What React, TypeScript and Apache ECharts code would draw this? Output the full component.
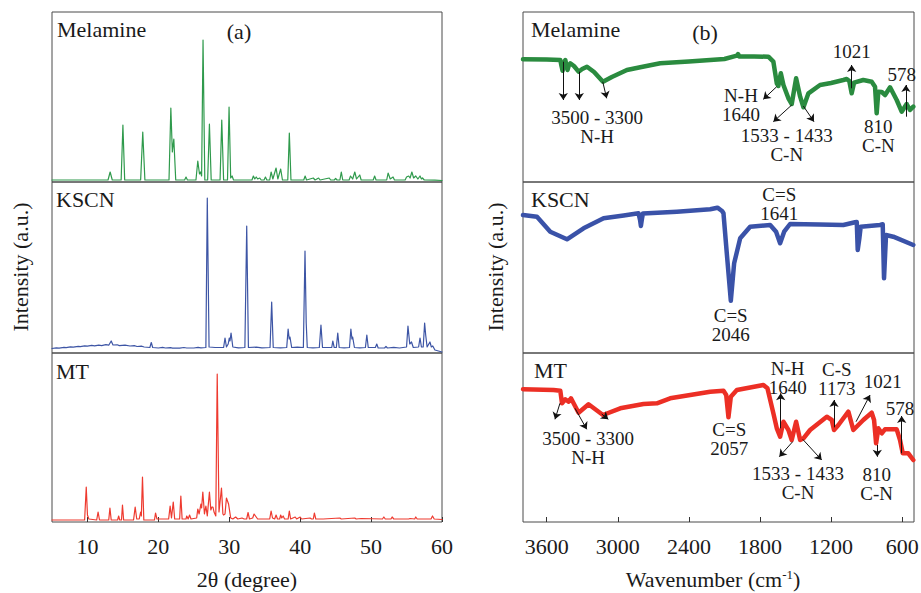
import React, { useEffect, useRef } from "react";
import * as echarts from "echarts";

// ---------- XRD (panel a) : [2theta, intensity a.u.] ----------
const xrdMelamine: [number, number][] = [
  [5, 2], [12.9, 2], [13.2, 10], [13.5, 2], [14.75, 2], [15.0, 57], [15.25, 2], [17.5, 2], [17.8, 50], [18.1, 2],
  [21.5, 2], [21.76, 74], [21.97, 30], [22.18, 43], [22.45, 2], [23.7, 2], [23.9, 5], [24.1, 2], [25.3, 2], [25.56, 21],
  [25.8, 8], [25.95, 10], [26.1, 6], [26.3, 142], [26.55, 2], [26.95, 2], [27.2, 58], [27.45, 2], [28.7, 2], [28.94, 62],
  [29.2, 2], [29.75, 2], [29.97, 75], [30.2, 4], [30.4, 6], [30.6, 2], [33.2, 2], [33.4, 6], [33.6, 3], [33.8, 5],
  [34.0, 3], [34.3, 4], [34.5, 2], [34.9, 2], [35.1, 5], [35.3, 2], [35.7, 2], [35.9, 10], [36.15, 3], [36.6, 14],
  [36.85, 3], [37.25, 13], [37.5, 2], [38.25, 2], [38.47, 49], [38.7, 2], [40.5, 2], [40.7, 6], [40.9, 2], [41.85, 4],
  [42.1, 2], [42.6, 4], [42.8, 2], [44.1, 4], [44.3, 2], [44.8, 2], [45.0, 3.5], [45.2, 2], [45.6, 2], [45.8, 10],
  [46.0, 2], [46.9, 2], [47.1, 6], [47.4, 3], [47.7, 10], [47.95, 3], [48.4, 7], [48.6, 2], [50.3, 2], [50.5, 6],
  [50.7, 2], [52.2, 2], [52.4, 9], [52.7, 3], [53.1, 5], [53.3, 2], [54.8, 2], [55.0, 5], [55.3, 6], [55.5, 4],
  [55.75, 10], [56.0, 4], [56.3, 6], [56.6, 3], [56.9, 6], [57.1, 3], [57.25, 4], [57.5, 2], [59, 1.8], [60, 1.5],
];

const xrdKSCN: [number, number][] = [
  [5, 4.5], [5.6, 5.2], [6, 4.8], [6.7, 5.6], [7, 5.3], [7.6, 6.2], [8, 5.8], [8.7, 6.7], [9, 6.4], [9.6, 7.2],
  [10, 6.8], [10.6, 7.6], [11, 7.2], [11.6, 7.9], [12, 7.4], [12.6, 8.3], [13, 7.8], [13.35, 12], [13.6, 8], [14.2, 8.2],
  [14.5, 7.4], [15.3, 7.8], [16, 7], [16.6, 7.3], [17, 6.5], [17.6, 6.8], [18, 6], [18.8, 5.5], [19.0, 10.5], [19.2, 5.5],
  [20, 5], [20.6, 5.6], [21, 5], [21.7, 5.4], [22, 4.8], [23, 4.8], [23.6, 5.5], [24, 5], [25, 5], [25.6, 5.6],
  [26, 5.2], [26.7, 5.5], [26.9, 155], [27.15, 6], [28, 5.5], [29.2, 5.5], [29.4, 15], [29.6, 6], [29.85, 9], [30.0, 15],
  [30.1, 12], [30.25, 20], [30.5, 6], [31.3, 5.2], [32.2, 5.5], [32.46, 127], [32.7, 5.5], [33.8, 5.8], [34.6, 5.2], [35.75, 5.5],
  [35.98, 51], [36.2, 5.5], [37.2, 5.1], [38.1, 5.5], [38.3, 24], [38.45, 14], [38.56, 16], [38.8, 5.5], [39.6, 5.8], [40.45, 5.5],
  [40.68, 102], [40.85, 30], [41.0, 5.5], [41.8, 5.1], [42.7, 5.5], [42.93, 28], [43.15, 5.5], [44.45, 5.5], [44.6, 12], [44.8, 5.5],
  [45.1, 5.5], [45.3, 20], [45.5, 5.5], [46.2, 5.1], [46.95, 5.5], [47.15, 24], [47.3, 14], [47.4, 16], [47.65, 5.5], [48.4, 5.2],
  [49.2, 5.5], [49.4, 18], [49.6, 5.5], [50.6, 5.5], [50.8, 9], [51.0, 5], [51.9, 5], [52.1, 6.5], [52.3, 5], [53.2, 5.6],
  [54, 5], [55.0, 6], [55.2, 27], [55.45, 9], [55.7, 11], [55.95, 5.5], [56.7, 6], [56.9, 15], [57.1, 6], [57.35, 6],
  [57.55, 30], [57.7, 18], [57.9, 6], [58.3, 11], [58.5, 6], [58.7, 7], [59.0, 3], [59.5, 2], [60, 1],
];

const xrdMT: [number, number][] = [
  [5, 2], [9.6, 2], [9.83, 35], [10.0, 7], [10.2, 3], [11.3, 2], [11.5, 10], [11.7, 2], [13.0, 2], [13.17, 14],
  [13.35, 2], [14.25, 2], [14.4, 6], [14.55, 2], [14.8, 2], [14.94, 17], [15.1, 2], [16.5, 2], [16.73, 15], [16.95, 3],
  [17.3, 3], [17.5, 10], [17.6, 6], [17.76, 45], [17.95, 2], [19.45, 2], [19.6, 9], [19.8, 3], [21.45, 3], [21.66, 16],
  [21.85, 4], [22.1, 20], [22.3, 3], [23.0, 3], [23.17, 26], [23.35, 3], [23.9, 3], [24.0, 6], [24.2, 3], [24.4, 7],
  [24.6, 3], [25.4, 4], [25.56, 13], [25.75, 8], [26.0, 18], [26.1, 14], [26.27, 30], [26.5, 8], [26.7, 16], [26.9, 6],
  [27.2, 30], [27.4, 12], [27.55, 15], [27.7, 15], [27.85, 10], [28.1, 6], [28.3, 148], [28.55, 10], [28.9, 34], [29.1, 8],
  [29.2, 7], [29.4, 8], [29.6, 24], [29.9, 18], [30.2, 4], [30.5, 3], [30.9, 5], [31.2, 3], [31.8, 4], [32.1, 3],
  [32.45, 3], [32.65, 9.5], [32.85, 3], [33.3, 4], [33.5, 8], [33.8, 5], [34.0, 3], [35.7, 3], [35.9, 11], [36.1, 4],
  [36.4, 3], [36.6, 7], [36.8, 3], [37.1, 3], [37.25, 7], [37.4, 4], [37.6, 6], [37.8, 3], [38.3, 3], [38.47, 11],
  [38.65, 3], [39.3, 5], [39.5, 3], [40.0, 5], [40.2, 3], [41.4, 4], [41.6, 3], [41.85, 3], [42.0, 9], [42.2, 3],
  [43.25, 3], [45.6, 4], [45.8, 3], [47.7, 4], [47.9, 3], [48.6, 3.5], [51.6, 3], [51.8, 5], [52.0, 3], [52.8, 3],
  [52.97, 5], [53.2, 3], [55.3, 3], [55.5, 3.5], [56.15, 3], [56.3, 5], [56.5, 3], [58.45, 3], [58.66, 6], [58.9, 3],
  [60, 2.5],
];

// ---------- FTIR (panel b) : [wavenumber cm-1, transmittance a.u.] ----------
const ftirMelamine: [number, number][] = [
  [3800, 122.7], [3600, 122.5], [3485, 122], [3475, 116], [3466, 111.3], [3455, 118], [3443, 122], [3434, 117], [3424, 112], [3412, 117],
  [3401, 118.7], [3370, 116], [3331, 110.3], [3300, 113], [3260, 115.3], [3200, 110], [3125, 100.3], [3050, 105], [2923, 112], [2800, 115],
  [2642, 118.7], [2400, 120.5], [2220, 122], [2100, 123], [1995, 126.3], [1985, 128], [1975, 125.5], [1850, 125.5], [1729, 125.3], [1687, 120.3],
  [1658, 98.7], [1645, 96], [1624, 108.7], [1602, 97], [1560, 83.7], [1532, 78], [1495, 103.7], [1461, 85.3], [1433, 74.7], [1391, 88.7],
  [1293, 97], [1200, 99], [1096, 102], [1068, 103], [1046, 101], [1026, 88.7], [1006, 99.3], [928, 102], [857, 100.3], [829, 95.3],
  [815, 68.7], [801, 90.3], [772, 90], [744, 87], [702, 94.7], [646, 82], [604, 70.3], [562, 78], [534, 72], [506, 75.3],
];

const ftirKSCN: [number, number][] = [
  [3800, 138], [3682, 136.3], [3570, 121.3], [3429, 113.7], [3289, 124.7], [3120, 134.7], [2950, 137.5], [2825, 139.7], [2812, 133], [2805, 127],
  [2795, 135], [2788, 139.5], [2501, 141.3], [2220, 143.7], [2159, 145.3], [2120, 142], [2108, 139.7], [2080, 99.7], [2046, 52.3], [2018, 89.7],
  [1967, 114.7], [1883, 126.3], [1714, 128], [1664, 121.3], [1630, 109.7], [1596, 121.3], [1546, 129], [1300, 128.5], [1096, 128], [998, 130.7],
  [983, 131], [975, 103], [961, 114.7], [950, 126.3], [787, 128], [764, 128.7], [753, 74.7], [736, 118], [675, 116.3], [506, 108],
];

const ftirMT: [number, number][] = [
  [3800, 132.7], [3542, 132], [3485, 131.3], [3471, 118.7], [3443, 122.7], [3415, 120.3], [3395, 123.7], [3331, 109.3], [3247, 117.7], [3125, 107],
  [2979, 113.7], [2783, 118], [2670, 118.7], [2558, 123.7], [2220, 130.3], [2108, 131.3], [2085, 127], [2066, 104.7], [2046, 125.3], [1995, 132],
  [1771, 137], [1737, 133.7], [1687, 108.7], [1658, 93.7], [1630, 85.3], [1602, 100.3], [1560, 92], [1532, 82], [1495, 100.3], [1461, 82],
  [1433, 83.7], [1377, 92], [1236, 105.3], [1194, 102], [1175, 92], [1138, 97], [1054, 110.3], [1012, 92], [928, 102], [857, 109.3],
  [837, 102], [820, 78.7], [801, 93.7], [772, 88.7], [745, 92.7], [646, 92.7], [618, 82], [595, 68.7], [548, 68.7], [506, 62],
];

// ---------- Annotations (data coordinates) ----------
type Note = [number, number, string];
type Arrow = [number, number, number, number];

const notesMelamine: Note[] = [
  [3175, 55.3, "3500 - 3300\nN-H"],
  [1960, 77.3, "N-H\n1640"],
  [1574, 37.5, "1533 - 1433\nC-N"],
  [1026, 130.3, "1021"],
  [801, 46.2, "810\nC-N"],
  [604, 108, "578"],
];
const arrowsMelamine: Arrow[] = [
  [3460, 120.3, 3460, 82],
  [3325, 110.3, 3325, 82],
  [3127, 100.3, 3094, 83.7],
  [1659, 95.3, 1772, 82.7],
  [1532, 77, 1687, 60.3],
  [1434, 76, 1344, 60.3],
  [1026, 93.7, 1026, 117],
  [568, 65.3, 568, 97],
];
const notesKSCN: Note[] = [
  [1637, 149.2, "C=S\n1641"],
  [2047, 27.7, "C=S\n2046"],
];
const notesMT: Note[] = [
  [3251, 73.7, "3500 - 3300\nN-H"],
  [2059, 82.8, "C=S\n2057"],
  [1566, 144, "N-H\n1640"],
  [1152, 142.8, "C-S\n1173"],
  [764, 140.3, "1021"],
  [618, 113.7, "578"],
  [815, 37.8, "810\nC-N"],
  [1479, 39.3, "1533 - 1433\nC-N"],
];
const arrowsMT: Arrow[] = [
  [3488, 118.7, 3530, 102.7],
  [3361, 113.7, 3262, 92.7],
  [3136, 108, 3080, 102.7],
  [1625, 93.7, 1625, 128.7],
  [1175, 94.7, 1175, 122],
  [989, 100.3, 871, 127],
  [604, 68.7, 604, 106],
  [810, 77, 810, 65.3],
  [1524, 80.3, 1637, 65.3],
  [1439, 82.7, 1279, 62],
];

const xrdTicks = [10, 20, 30, 40, 50, 60];
const ftirTicks = [600, 1200, 1800, 2400, 3000, 3600];

const FONT = "Liberation Serif";
const TEXT = "#1a1a1a";

export default function App() {
  const ref = useRef<HTMLDivElement>(null);

  useEffect(() => {
    if (!ref.current) return;
    const chart = echarts.init(ref.current, undefined, { renderer: "svg" });

    const rows = [
      { top: 12, height: 170 },
      { top: 182, height: 171 },
      { top: 353, height: 169 },
    ];
    const cols = [
      { left: 52, width: 390 },
      { left: 523, width: 391 },
    ];

    const grids: any[] = [];
    const xAxes: any[] = [];
    const yAxes: any[] = [];
    cols.forEach((c, ci) => {
      rows.forEach((r, ri) => {
        grids.push({
          left: c.left,
          top: r.top,
          width: c.width,
          height: r.height,
          containLabel: false,
          outerBoundsMode: "none",
          show: true,
          borderColor: "#4a4a4a",
          borderWidth: 1,
          backgroundColor: "transparent",
        });
        const idx = ci * 3 + ri;
        const isBottom = ri === 2;
        const ticks = ci === 0 ? xrdTicks : ftirTicks;
        xAxes.push({
          type: "value",
          gridIndex: idx,
          min: ci === 0 ? 5 : 500,
          max: ci === 0 ? 60 : 3800,
          inverse: ci === 1,
          show: isBottom,
          axisLine: { show: false },
          splitLine: { show: false },
          axisTick: {
            show: true,
            inside: true,
            length: 5,
            customValues: ticks,
            lineStyle: { color: "#333", width: 1 },
          },
          axisLabel: {
            show: true,
            customValues: ticks,
            formatter: (v: number) => String(v),
            fontFamily: FONT,
            fontSize: 22,
            color: TEXT,
            margin: 13,
          },
        });
        yAxes.push({
          type: "value",
          gridIndex: idx,
          min: 0,
          max: r.height,
          show: false,
          splitLine: { show: false },
        });
      });
    });

    const markPointFor = (notes: Note[]) => ({
      symbol: "circle",
      symbolSize: 0,
      silent: true,
      label: {
        show: true,
        position: "inside",
        color: TEXT,
        fontFamily: FONT,
        fontSize: 19,
        lineHeight: 19,
        align: "center",
        verticalAlign: "middle",
      },
      data: notes.map((n) => ({
        coord: [n[0], n[1]],
        value: 0,
        label: { formatter: n[2] },
      })),
    });

    const markLineFor = (arrows: Arrow[]) => ({
      symbol: ["none", "arrow"],
      symbolSize: 7,
      silent: true,
      label: { show: false },
      lineStyle: { color: "#111", width: 1, type: "solid" },
      emphasis: { disabled: true },
      data: arrows.map((a) => [{ coord: [a[0], a[1]] }, { coord: [a[2], a[3]] }]),
    });

    const line = (idx: number, data: [number, number][], color: string, width: number, extra: any = {}) => ({
      type: "line",
      xAxisIndex: idx,
      yAxisIndex: idx,
      data,
      symbol: "none",
      showSymbol: false,
      clip: true,
      silent: true,
      lineStyle: { color, width, join: "round", cap: "round" },
      itemStyle: { color },
      ...extra,
    });

    const series: any[] = [
      line(0, xrdMelamine, "#2f9a4c", 1.2),
      line(1, xrdKSCN, "#3d55a5", 1.2),
      line(2, xrdMT, "#ee3a2f", 1.2),
      line(3, ftirMelamine, "#2a8b3f", 4.5, {
        markPoint: markPointFor(notesMelamine),
        markLine: markLineFor(arrowsMelamine),
      }),
      line(4, ftirKSCN, "#3a52a8", 4.5, { markPoint: markPointFor(notesKSCN) }),
      line(5, ftirMT, "#ec2f25", 4.5, {
        markPoint: markPointFor(notesMT),
        markLine: markLineFor(arrowsMT),
      }),
    ];

    const label = (text: string, x: number, y: number, align = "left", size = 22) => ({
      type: "text",
      x,
      y,
      silent: true,
      style: {
        text,
        fill: TEXT,
        fontFamily: FONT,
        fontSize: size,
        align,
        verticalAlign: "middle",
      },
    });

    const vlabel = (text: string, x: number, y: number) => ({
      type: "text",
      x,
      y,
      rotation: Math.PI / 2,
      silent: true,
      style: { text, fill: TEXT, fontFamily: FONT, fontSize: 22, align: "center", verticalAlign: "middle" },
    });

    const graphic: any[] = [
      label("Melamine", 57, 29),
      label("(a)", 239, 31, "center"),
      label("KSCN", 56, 199),
      label("MT", 56, 371),
      label("Melamine", 531, 29),
      label("(b)", 705, 32, "center"),
      label("KSCN", 531, 199),
      label("MT", 534, 370),
      label("2θ (degree)", 247, 579, "center"),
      vlabel("Intensity (a.u.)", 20, 267),
      vlabel("Intensity (a.u.)", 495, 267),
      {
        type: "text",
        x: 713,
        y: 579,
        silent: true,
        style: {
          text: "Wavenumber (cm{sup|-1})",
          fill: TEXT,
          fontFamily: FONT,
          fontSize: 22,
          align: "center",
          verticalAlign: "middle",
          rich: {
            sup: { fontSize: 13, fontFamily: FONT, fill: TEXT, verticalAlign: "top", lineHeight: 22, padding: [0, 0, 10, 0] },
          },
        },
      },
    ];

    chart.setOption({
      animation: false,
      backgroundColor: "#ffffff",
      grid: grids,
      xAxis: xAxes,
      yAxis: yAxes,
      series,
      graphic,
    });

    return () => chart.dispose();
  }, []);

  return (
    <div
      ref={ref}
      style={{ position: "fixed", left: 0, top: 0, width: 921, height: 593, background: "#fff" }}
    />
  );
}
